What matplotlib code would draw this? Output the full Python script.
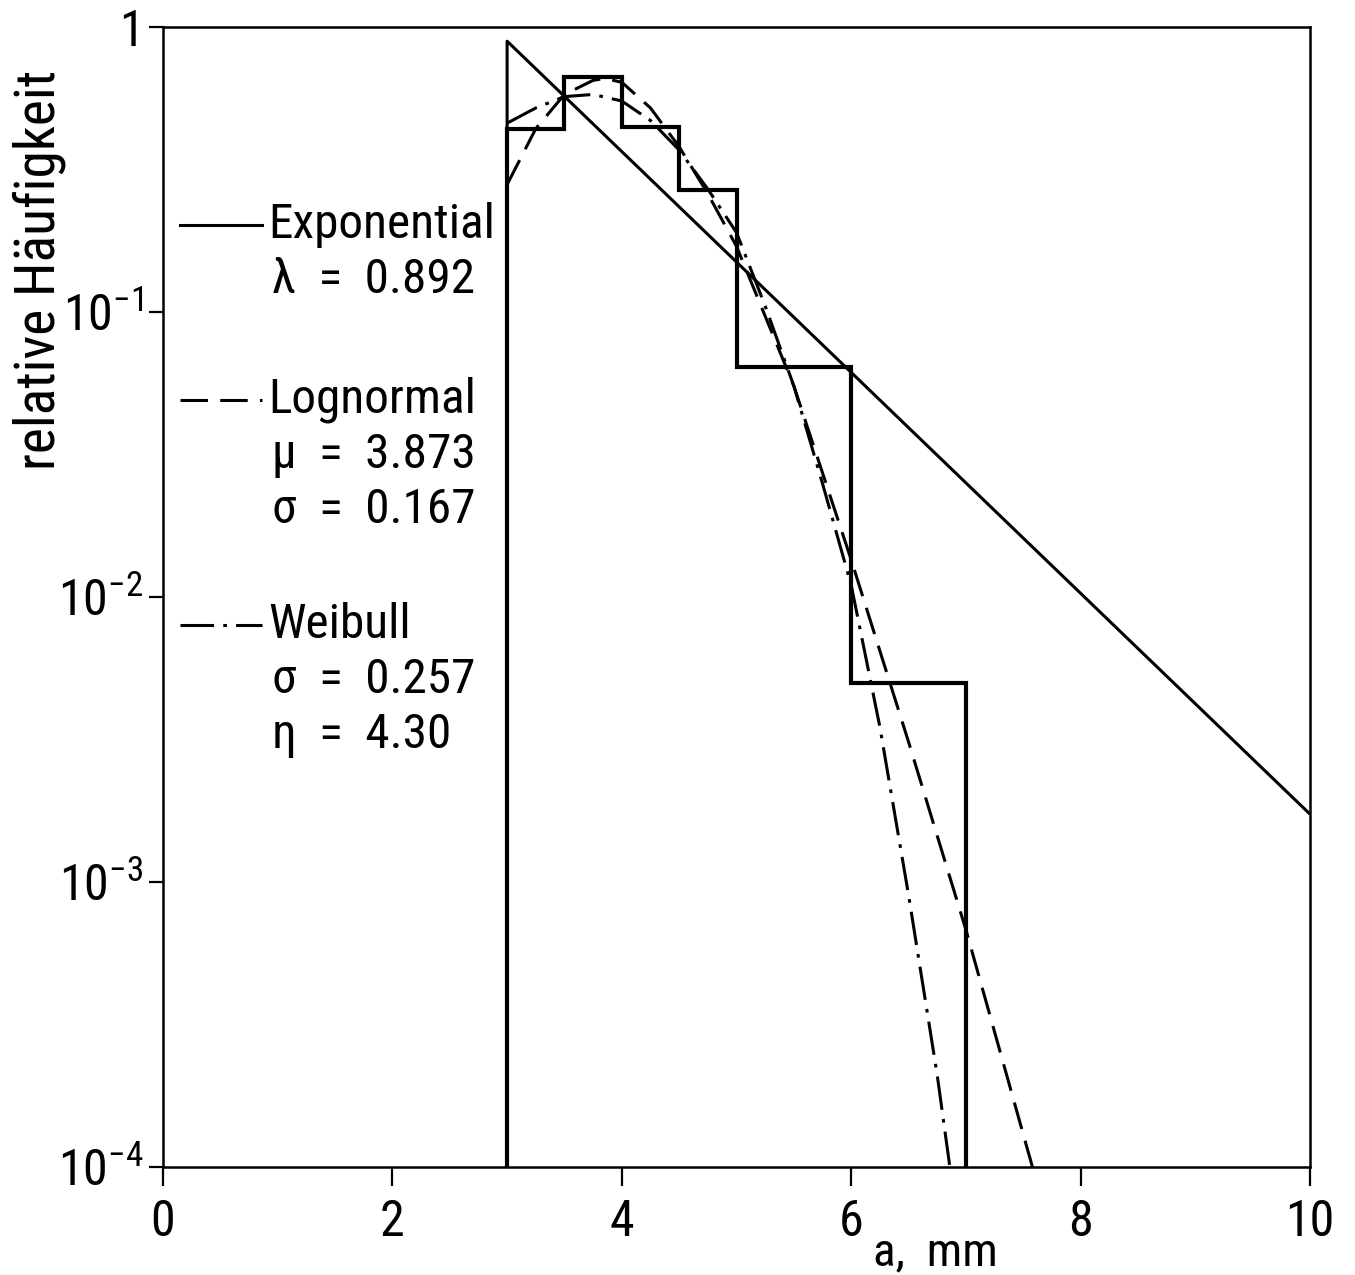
import matplotlib
matplotlib.use('Agg')
import matplotlib.pyplot as plt
from matplotlib import font_manager

# class widths of the histogram (mm) and relative frequencies
bin_edges = [3.0, 3.5, 4.0, 4.5, 5.0, 6.0, 7.0]
rel_freq = [0.44, 0.67, 0.445, 0.268, 0.064, 0.005]

# fitted densities
exp_a = [3.0, 3.0, 10.0]
exp_f = [1e-4, 0.892, 0.00173]

logn_a = [3.0, 3.25, 3.5, 3.75, 3.85, 4.0, 4.25, 4.5, 4.75, 5.0, 5.5, 6.0, 6.5, 7.0, 7.58]
logn_f = [0.28, 0.44, 0.58, 0.65, 0.66, 0.64, 0.52, 0.38, 0.26, 0.17, 0.055, 0.0135,
          0.0031, 0.00068, 0.0001]

weib_a = [3.0, 3.25, 3.5, 3.75, 4.0, 4.25, 4.5, 4.75, 5.0, 5.25, 5.5, 5.75, 6.0, 6.25,
          6.5, 6.75, 6.86]
weib_f = [0.46, 0.52, 0.57, 0.58, 0.55, 0.47, 0.37, 0.27, 0.19, 0.105, 0.055, 0.025,
          0.011, 0.0035, 0.0009, 0.00021, 0.0001]

x_ticks = [0, 2, 4, 6, 8, 10]
y_ticks = [1e-4, 1e-3, 1e-2, 1e-1, 1]
y_ticklabels = [r'$10^{-4}$', r'$10^{-3}$', r'$10^{-2}$', r'$10^{-1}$', '1']

# narrowest sans family that is available
names = {f.name for f in font_manager.fontManager.ttflist}
family = 'DejaVu Sans'
for cand in ['Roboto Condensed', 'Liberation Sans Narrow', 'DejaVu Sans Condensed',
             'Noto Sans Condensed', 'Roboto', 'Lato']:
    if cand in names:
        family = cand
        break
plt.rcParams['font.family'] = [family, 'DejaVu Sans']
plt.rcParams['mathtext.fontset'] = 'custom'
plt.rcParams['mathtext.rm'] = family
plt.rcParams['mathtext.it'] = family
plt.rcParams['mathtext.default'] = 'rm'

fig = plt.figure(figsize=(13.55, 12.75), dpi=100)
ax = fig.add_axes([0.1203, 0.0847, 0.8465, 0.8941])

ax.stairs(rel_freq, bin_edges, baseline=1e-4, color='black', lw=3.0)
ax.plot(exp_a, exp_f, color='black', lw=2.2, solid_capstyle='butt')
ax.plot(logn_a, logn_f, color='black', lw=2.2, dashes=(9, 4))
ax.plot(weib_a, weib_f, color='black', lw=2.2, dashes=(11, 3, 1.2, 3))

ax.set_yscale('log')
ax.set_xlim(0, 10)
ax.set_ylim(1e-4, 1)
ax.set_xticks(x_ticks)
ax.set_xticklabels([str(t) for t in x_ticks])
ax.set_yticks(y_ticks)
ax.set_yticklabels(y_ticklabels)
ax.minorticks_off()
ax.tick_params(axis='x', direction='out', length=14, width=1.6, labelsize=36, pad=8)
ax.tick_params(axis='y', direction='out', length=10, width=1.6, labelsize=36, pad=4)
for s in ax.spines.values():
    s.set_linewidth(1.8)

fig.text(0.029, 0.788, 'relative Häufigkeit', rotation=90, fontsize=40,
         ha='center', va='center')
fig.text(0.69, 0.018, 'a,  mm', fontsize=34, ha='center', va='center')

# hand-drawn key on the left side of the frame
def ax_xy(px, py):
    return (px - 163) / 1147, (1167 - py) / 1140

keys = [
    (225, dict(color='black', lw=2.2), ['Exponential', 'λ  =  0.892']),
    (400, dict(color='black', lw=2.2, dashes=(9, 4)), ['Lognormal', 'μ  =  3.873', 'σ  =  0.167']),
    (625, dict(color='black', lw=2.2, dashes=(11, 3, 1.2, 3)), ['Weibull', 'σ  =  0.257', 'η  =  4.30']),
]
for py, style, lines in keys:
    x0, y0 = ax_xy(180, py)
    x1, _ = ax_xy(262, py)
    ax.plot([x0, x1], [y0, y0], transform=ax.transAxes, **style)
    for i, txt in enumerate(lines):
        tx, ty = ax_xy(268 if i == 0 else 272, py + 55 * i)
        ax.text(tx, ty, txt, transform=ax.transAxes, fontsize=35.5, ha='left', va='center')

fig.savefig('out.png', dpi=100)
